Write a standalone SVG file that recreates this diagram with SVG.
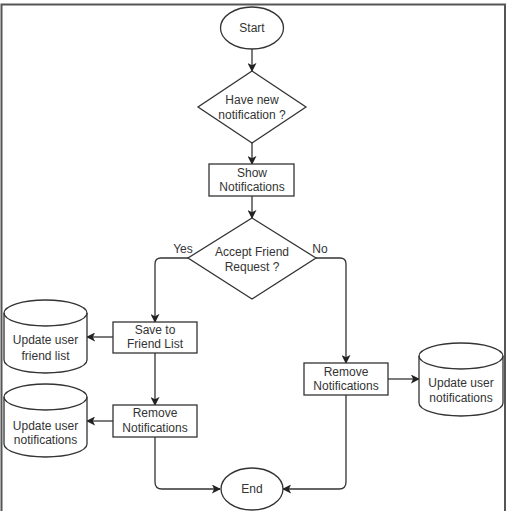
<svg xmlns="http://www.w3.org/2000/svg" width="510" height="511" viewBox="0 0 510 511">
<defs>
<style>
.s{fill:#fff;stroke:#333;stroke-width:1.3}
.c{fill:none;stroke:#333;stroke-width:1.3}
text{font-family:"Liberation Sans",Arial,sans-serif;font-size:12px;fill:#333;text-anchor:middle}
</style>
<marker id="a" viewBox="0 0 10 10" refX="9" refY="5" markerWidth="9" markerHeight="9" markerUnits="userSpaceOnUse" orient="auto">
<path d="M0,0 L10,5 L0,10 L2.5,5 Z" fill="#222"/>
</marker>
</defs>
<rect width="510" height="511" fill="#fff"/>
<path d="M1.5,520 V4.5 H505 V520" fill="none" stroke="#555" stroke-width="2"/>
<g id="connectors">
<path class="c" d="M252,49 V71" marker-end="url(#a)"/>
<path class="c" d="M252,143 V164" marker-end="url(#a)"/>
<path class="c" d="M252,196 V218" marker-end="url(#a)"/>
<path class="c" d="M188,258 H161 Q155,258 155,264 V322" marker-end="url(#a)"/>
<path class="c" d="M316,258 H340 Q346,258 346,264 V363" marker-end="url(#a)"/>
<path class="c" d="M113,337 H87" marker-end="url(#a)"/>
<path class="c" d="M155,353 V405" marker-end="url(#a)"/>
<path class="c" d="M113,421 H87" marker-end="url(#a)"/>
<path class="c" d="M155,437 V482 Q155,489 162,489 H220" marker-end="url(#a)"/>
<path class="c" d="M388,379 H419" marker-end="url(#a)"/>
<path class="c" d="M346,395 V482 Q346,489 339,489 H283" marker-end="url(#a)"/>
<text x="183" y="253">Yes</text>
<text x="320" y="253">No</text>
</g>
<g id="start">
<ellipse class="s" cx="252" cy="28" rx="31.5" ry="21"/>
<text x="252" y="32">Start</text>
</g>
<g id="q1">
<polygon class="s" points="252,71 306,107 252,143 198,107"/>
<text x="252" y="104">Have new</text>
<text x="252" y="119">notification ?</text>
</g>
<g id="show">
<rect class="s" x="209" y="164" width="85" height="32"/>
<text x="252" y="177">Show</text>
<text x="252" y="191">Notifications</text>
</g>
<g id="q2">
<polygon class="s" points="252,218 316,258 252,299 188,258"/>
<text x="252" y="256">Accept Friend</text>
<text x="252" y="271">Request ?</text>
</g>
<g id="save">
<rect class="s" x="113" y="322" width="84" height="31"/>
<text x="155" y="334">Save to</text>
<text x="155" y="348">Friend List</text>
</g>
<g id="db1">
<path class="s" d="M4,313 A41.5,13 0 0 1 87,313 V360 A41.5,13 0 0 1 4,360 Z"/>
<path class="c" d="M4,313 A41.5,13 0 0 0 87,313"/>
<text x="45.5" y="344">Update user</text>
<text x="45.5" y="360">friend list</text>
</g>
<g id="remove1">
<rect class="s" x="113" y="405" width="84" height="32"/>
<text x="155" y="417">Remove</text>
<text x="155" y="432">Notifications</text>
</g>
<g id="db2">
<path class="s" d="M4,397 A41.5,13 0 0 1 87,397 V444 A41.5,13 0 0 1 4,444 Z"/>
<path class="c" d="M4,397 A41.5,13 0 0 0 87,397"/>
<text x="45.5" y="430">Update user</text>
<text x="45.5" y="444">notifications</text>
</g>
<g id="remove2">
<rect class="s" x="304" y="363" width="84" height="32"/>
<text x="346" y="376">Remove</text>
<text x="346" y="390">Notifications</text>
</g>
<g id="db3">
<path class="s" d="M419,356 A42,13 0 0 1 503,356 V403 A42,13 0 0 1 419,403 Z"/>
<path class="c" d="M419,356 A42,13 0 0 0 503,356"/>
<text x="461" y="387">Update user</text>
<text x="461" y="402">notifications</text>
</g>
<g id="end">
<ellipse class="s" cx="252" cy="489" rx="31" ry="21"/>
<text x="252" y="493">End</text>
</g>
</svg>
